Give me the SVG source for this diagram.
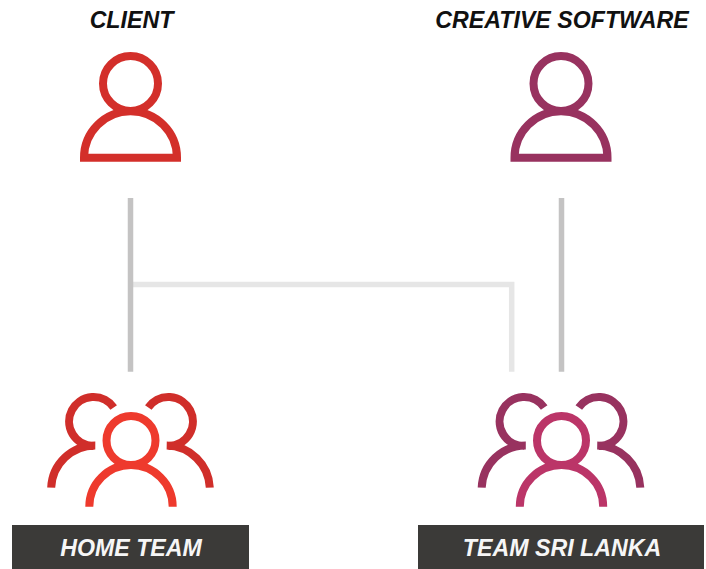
<svg xmlns="http://www.w3.org/2000/svg" width="706" height="569" viewBox="0 0 706 569">
<defs>
<style>
.t{font-family:"Liberation Sans",Arial,sans-serif;font-weight:700;font-style:italic;font-size:23.2px;text-anchor:middle}
.d{fill:#111}
.w{fill:#f6f6f6}
.i{fill:none;stroke-width:8}
.bar{fill:#3b3a38}
.c{fill:none;stroke-width:5.5}
</style>
<g id="one"><circle cx="130.5" cy="83.5" r="27.5"/><path d="M84 157.7A46.5 46.5 0 0 1 177 157.7Z"/></g>
<path id="backs" d="M113.7 407.500A24.500 24.500 0 1 0 93.500 446M95.300 445.500A44 44 0 0 0 51.200 487.700M148.300 407.500A24.500 24.500 0 1 1 168.500 446M166.700 445.500A44 44 0 0 1 209.800 487.700"/>
<g id="front"><circle cx="131" cy="440.500" r="24.500"/><path d="M89.300 506.700A41.700 41.700 0 0 1 172.700 506.700"/></g>
</defs>
<rect width="706" height="569" fill="#fff"/>
<g id="connectors">
<path class="c" stroke="#e6e6e6" d="M131 284.500H511.700V371.700"/>
<path class="c" stroke="#c4c3c3" d="M130.500 198V371.700M561.500 198V371.700"/>
</g>
<g id="client"><use href="#one" class="i" stroke="#d32f2a"/><text class="t d" x="131.500" y="28">CLIENT</text></g>
<g id="creative-software"><use href="#one" x="430.500" class="i" stroke="#98325f"/><text class="t d" x="562" y="28">CREATIVE SOFTWARE</text></g>
<g id="home-team">
<use href="#backs" class="i" stroke="#d02e2a"/>
<use href="#front" class="i" stroke="#ee3a2d"/>
<rect class="bar" x="12" y="525" width="237" height="44"/><text class="t w" x="131" y="556">HOME TEAM</text>
</g>
<g id="team-sri-lanka">
<use href="#backs" x="430.500" class="i" stroke="#98325f"/>
<use href="#front" x="430.500" class="i" stroke="#bb3568"/>
<rect class="bar" x="418" y="525" width="286" height="44"/><text class="t w" x="562" y="556">TEAM SRI LANKA</text>
</g>
</svg>
